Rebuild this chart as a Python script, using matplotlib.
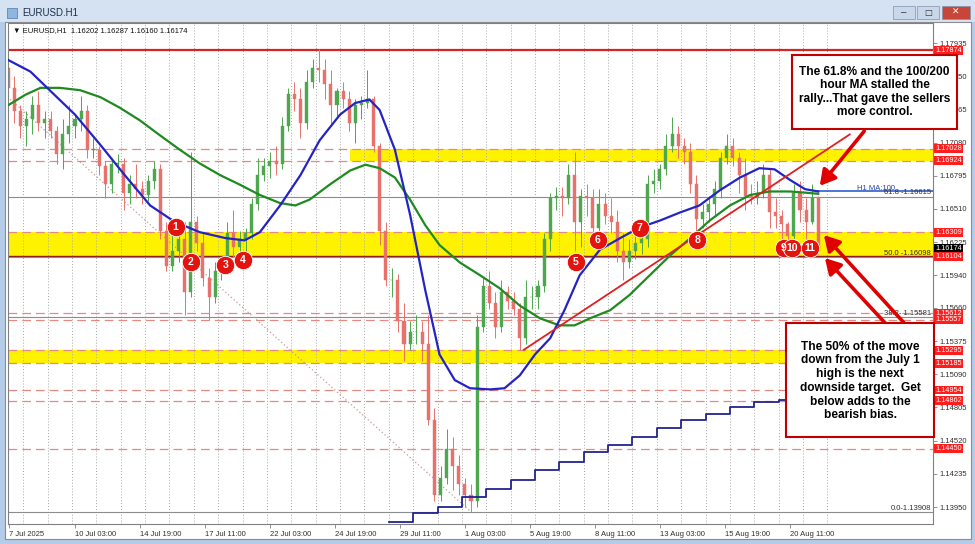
import matplotlib
matplotlib.use("Agg")
import matplotlib.pyplot as plt
from matplotlib.patches import Rectangle, FancyArrowPatch

plt.rcParams['font.family'] = ['Liberation Sans', 'DejaVu Sans']

# ---------------- data ----------------
trading_days = ['2025-07-07', '2025-07-08', '2025-07-09', '2025-07-10', '2025-07-11',
                '2025-07-14', '2025-07-15', '2025-07-16', '2025-07-17', '2025-07-18',
                '2025-07-21', '2025-07-22', '2025-07-23', '2025-07-24', '2025-07-25',
                '2025-07-28', '2025-07-29', '2025-07-30', '2025-07-31', '2025-08-01',
                '2025-08-04', '2025-08-05', '2025-08-06', '2025-08-07', '2025-08-08',
                '2025-08-11', '2025-08-12', '2025-08-13', '2025-08-14', '2025-08-15',
                '2025-08-18', '2025-08-19', '2025-08-20', '2025-08-21']

# 6-hour candles (4 per day), open = previous close
first_open = 1.1778
candle_high = [
    1.1785, 1.1778, 1.1765, 1.1740,  1.1735, 1.1748, 1.1752, 1.1735,
    1.1735, 1.1722, 1.1728, 1.1740,  1.1732, 1.1748, 1.1740, 1.1712,
    1.1705, 1.1692, 1.1695, 1.1698,  1.1695, 1.1680, 1.1690, 1.1675,
    1.1680, 1.1692, 1.1690, 1.1640,  1.1630, 1.1640, 1.1640, 1.1700,
    1.1645, 1.1630, 1.1600, 1.1605,  1.1610, 1.1640, 1.1650, 1.1632,
    1.1635, 1.1660, 1.1695, 1.1695,  1.1700, 1.1705, 1.1730, 1.1755,
    1.1760, 1.1755, 1.1770, 1.1780,  1.1788, 1.1780, 1.1770, 1.1755,
    1.1760, 1.1752, 1.1745, 1.1748,  1.1770, 1.1748, 1.1708, 1.1640,
    1.1600, 1.1595, 1.1570, 1.1555,  1.1560, 1.1555, 1.1560, 1.1480,
    1.1430, 1.1462, 1.1455, 1.1440,  1.1420, 1.1415, 1.1560, 1.1592,
    1.1598, 1.1580, 1.1590, 1.1585,  1.1580, 1.1570, 1.1590, 1.1585,
    1.1590, 1.1630, 1.1665, 1.1670,  1.1670, 1.1690, 1.1700, 1.1668,
    1.1672, 1.1668, 1.1668, 1.1665,  1.1660, 1.1650, 1.1630, 1.1625,
    1.1630, 1.1640, 1.1680, 1.1685,  1.1690, 1.1715, 1.1730, 1.1722,
    1.1712, 1.1708, 1.1680, 1.1655,  1.1662, 1.1675, 1.1700, 1.1715,
    1.1712, 1.1700, 1.1695, 1.1672,  1.1675, 1.1690, 1.1685, 1.1660,
    1.1650, 1.1640, 1.1672, 1.1675,  1.1660, 1.1672, 1.1662]
candle_low = [
    1.1765, 1.1748, 1.1725, 1.1712,  1.1705, 1.1715, 1.1718, 1.1712,
    1.1712, 1.1690, 1.1685, 1.1708,  1.1712, 1.1718, 1.1695, 1.1695,
    1.1680, 1.1660, 1.1665, 1.1682,  1.1650, 1.1655, 1.1660, 1.1655,
    1.1658, 1.1668, 1.1625, 1.1598,  1.1598, 1.1605, 1.1560, 1.1575,
    1.1615, 1.1585, 1.1556, 1.1570,  1.1590, 1.1600, 1.1610, 1.1612,
    1.1610, 1.1625, 1.1650, 1.1675,  1.1678, 1.1680, 1.1685, 1.1718,
    1.1735, 1.1712, 1.1720, 1.1755,  1.1760, 1.1745, 1.1722, 1.1730,
    1.1738, 1.1718, 1.1708, 1.1728,  1.1738, 1.1700, 1.1620, 1.1585,
    1.1575, 1.1545, 1.1520, 1.1530,  1.1535, 1.1520, 1.1465, 1.1400,
    1.1400, 1.1415, 1.1410, 1.1405,  1.1395, 1.1391, 1.1395, 1.1545,
    1.1565, 1.1540, 1.1545, 1.1565,  1.1560, 1.1530, 1.1535, 1.1565,
    1.1565, 1.1580, 1.1615, 1.1650,  1.1645, 1.1655, 1.1615, 1.1618,
    1.1645, 1.1625, 1.1630, 1.1638,  1.1630, 1.1605, 1.1590, 1.1600,
    1.1608, 1.1612, 1.1618, 1.1665,  1.1668, 1.1680, 1.1700, 1.1695,
    1.1690, 1.1665, 1.1630, 1.1635,  1.1640, 1.1645, 1.1660, 1.1690,
    1.1688, 1.1665, 1.1650, 1.1655,  1.1655, 1.1660, 1.1635, 1.1635,
    1.1625, 1.1618, 1.1622, 1.1640,  1.1625, 1.1638, 1.1612]
candle_close = [
    1.1772, 1.1755, 1.1735, 1.1722,  1.1728, 1.1740, 1.1725, 1.1728,
    1.1718, 1.1698, 1.1715, 1.1722,  1.1728, 1.1735, 1.1702, 1.1702,
    1.1688, 1.1672, 1.1690, 1.1690,  1.1665, 1.1672, 1.1668, 1.1663,
    1.1675, 1.1685, 1.1632, 1.1602,  1.1615, 1.1625, 1.1580, 1.1640,
    1.1622, 1.1592, 1.1575, 1.1598,  1.1605, 1.1630, 1.1618, 1.1625,
    1.1630, 1.1655, 1.1680, 1.1688,  1.1692, 1.1690, 1.1722, 1.1750,
    1.1745, 1.1725, 1.1760, 1.1772,  1.1770, 1.1758, 1.1740, 1.1752,
    1.1745, 1.1725, 1.1740, 1.1742,  1.1745, 1.1705, 1.1632, 1.1590,
    1.1590, 1.1555, 1.1535, 1.1545,  1.1545, 1.1535, 1.1470, 1.1405,
    1.1420, 1.1445, 1.1430, 1.1415,  1.1405, 1.1400, 1.1550, 1.1585,
    1.1570, 1.1550, 1.1580, 1.1572,  1.1565, 1.1540, 1.1575, 1.1575,
    1.1585, 1.1625, 1.1660, 1.1662,  1.1660, 1.1680, 1.1640, 1.1662,
    1.1660, 1.1635, 1.1655, 1.1645,  1.1640, 1.1615, 1.1605, 1.1615,
    1.1622, 1.1625, 1.1672, 1.1675,  1.1685, 1.1705, 1.1715, 1.1705,
    1.1700, 1.1672, 1.1642, 1.1648,  1.1655, 1.1668, 1.1695, 1.1705,
    1.1695, 1.1680, 1.1662, 1.1660,  1.1665, 1.1680, 1.1648, 1.1645,
    1.1638, 1.1628, 1.1665, 1.1650,  1.1640, 1.1660, 1.16174]

# hourly moving averages (bar index, price)
ma100_bar = [-1, 21, 40, 65, 90, 114, 139, 163, 188, 213, 232, 247, 267, 287, 306, 326,
             341, 355, 365, 380, 395, 410, 424, 439, 454, 474, 488, 503, 518, 533, 547,
             562, 582, 602, 621, 641, 661, 680, 700, 720, 739, 754, 769, 784, 797]
ma100 = [1.1779, 1.1769, 1.1753, 1.1732, 1.1706, 1.1680, 1.1654, 1.1640, 1.1631, 1.1626,
         1.1624, 1.1631, 1.1654, 1.1680, 1.1710, 1.1732, 1.1742, 1.1745, 1.1736, 1.1702,
         1.1646, 1.1581, 1.1526, 1.1504, 1.1497, 1.1496, 1.1497, 1.1508, 1.1526, 1.1540,
         1.1564, 1.1594, 1.1616, 1.1626, 1.1635, 1.1641, 1.1648, 1.1654, 1.1667, 1.1678,
         1.1686, 1.1685, 1.1676, 1.1668, 1.1666]
ma200_bar = [-1, 16, 31, 50, 70, 90, 109, 129, 149, 168, 188, 208, 227, 247, 267, 282,
             296, 316, 336, 351, 365, 380, 395, 410, 424, 444, 464, 483, 503, 523, 542,
             557, 572, 592, 611, 631, 651, 671, 690, 710, 730, 749, 769, 784, 797]
ma200 = [1.1740, 1.1749, 1.1755, 1.1755, 1.1753, 1.1747, 1.1738, 1.1727, 1.1714, 1.1702,
         1.1690, 1.1680, 1.1672, 1.1663, 1.1656, 1.1654, 1.1659, 1.1672, 1.1684, 1.1689,
         1.1686, 1.1678, 1.1659, 1.1637, 1.1620, 1.1605, 1.1594, 1.1583, 1.1568, 1.1557,
         1.1551, 1.1551, 1.1557, 1.1564, 1.1577, 1.1594, 1.1611, 1.1626, 1.1641, 1.1654,
         1.1663, 1.1666, 1.1666, 1.1665, 1.1664]

# daily MA shown as a step line (from 29 Jul)
daily_ma_days = trading_days[16:]
daily_ma = [1.13821, 1.13898, 1.13950, 1.14036, 1.14105, 1.14182, 1.14268, 1.14336,
            1.14422, 1.14482, 1.14551, 1.14628, 1.14697, 1.14749, 1.14809, 1.14852,
            1.14869, 1.14877]

# horizontal levels
red_levels = [1.17874, 1.17028, 1.16924, 1.16309, 1.16104, 1.15612, 1.15557,
              1.15295, 1.15185, 1.14954, 1.14862, 1.14450]
yellow_zones = [(1.16924, 1.17028), (1.16104, 1.16309), (1.15185, 1.15295)]
fib_levels = [1.16615, 1.16098, 1.15581, 1.13908]
fib_labels = ['61.8 -1.16615', '50.0 -1.16098', '38.2- 1.15581', '0.0-1.13908']
fib_anchor_bars = [-106, 455]
fib_anchor_prices = [1.18288, 1.13908]
trend_bars = [507, 828]
trend_prices = [1.1530, 1.1715]
last_price = 1.16174

circle_bars = [164, 179, 213, 230, 558, 580, 621, 678, 763, 771, 789]
circle_prices = [1.16355, 1.16054, 1.16028, 1.16071, 1.16054, 1.16243, 1.16346,
                 1.16243, 1.16174, 1.16174, 1.16174]
circle_labels = ['1', '2', '3', '4', '5', '6', '7', '8', '9', '10', '11']

price_ticks = [1.17935, 1.17650, 1.17365, 1.17080, 1.16795, 1.16510, 1.16225, 1.15940,
               1.15660, 1.15375, 1.15090, 1.14805, 1.14520, 1.14235, 1.13950]
time_ticks = [('2025-07-07', 10), ('2025-07-10', 3), ('2025-07-14', 19), ('2025-07-17', 11),
              ('2025-07-22', 3), ('2025-07-24', 19), ('2025-07-29', 11), ('2025-08-01', 3),
              ('2025-08-05', 19), ('2025-08-08', 11), ('2025-08-13', 3), ('2025-08-15', 19),
              ('2025-08-20', 11)]
time_labels = ['7 Jul 2025', '10 Jul 03:00', '14 Jul 19:00', '17 Jul 11:00', '22 Jul 03:00',
               '24 Jul 19:00', '29 Jul 11:00', '1 Aug 03:00', '5 Aug 19:00', '8 Aug 11:00',
               '13 Aug 03:00', '15 Aug 19:00', '20 Aug 11:00']

top_note = "The 61.8% and the 100/200\nhour MA stalled the\nrally...That gave the sellers\nmore control."
bottom_note = ("The 50% of the move\ndown from the July 1\nhigh is the next\n"
               "downside target.  Get\nbelow adds to the\nbearish bias.")


def bar_of(day, hour):
    # hourly bar index, bar 0 = first visible bar (7 Jul 10:00)
    return 24 * trading_days.index(day) + hour - 10


# pixel helpers for the window layout
W, H = 975, 544
def fx(x):
    return x / W
def fy(y):
    return 1 - y / H


fig = plt.figure(figsize=(9.75, 5.44), dpi=100, facecolor='#b4cce8')

# window chrome
fig.add_artist(Rectangle((0, fy(22)), 1, 22 / H, transform=fig.transFigure,
                         fc='#d4e2f2', ec='none', zorder=0))
fig.add_artist(Rectangle((fx(5), fy(539)), (971 - 5) / W, (539 - 22) / H,
                         transform=fig.transFigure, fc='white', ec='#8c8c8c', lw=0.8, zorder=0))
fig.add_artist(Rectangle((fx(7), fy(18)), 10 / W, 10 / H, transform=fig.transFigure,
                         fc='#8fb6e0', ec='#5f86b5', lw=0.6))
fig.text(fx(22), fy(13), 'EURUSD.H1', fontsize=7, color='#1e2f4a', va='center')
for x0, x1, col in [(893, 915, '#c8d7ea'), (917, 939, '#c8d7ea'), (942, 970, '#c8453a')]:
    fig.add_artist(Rectangle((fx(x0), fy(19)), (x1 - x0) / W, 13 / H,
                             transform=fig.transFigure, fc=col, ec='#7f93ad', lw=0.5))
fig.text(fx(904), fy(12), '\u2013', fontsize=7, ha='center', va='center', color='#333')
fig.text(fx(928), fy(12.5), '\u25a1', fontsize=6, ha='center', va='center', color='#333',
         family=['DejaVu Sans'])
fig.text(fx(956), fy(12.5), '\u2715', fontsize=6.5, ha='center', va='center', color='white',
         family=['DejaVu Sans'], weight='bold')

ax = fig.add_axes([fx(8), fy(524), (933 - 8) / W, (524 - 23) / H])
ax.set_xlim(-1, 910)
ax.set_ylim(1.13804, 1.18107)
for s in ax.spines.values():
    s.set_color('#808080')
    s.set_linewidth(0.8)

# grid: one dotted line per trading day
for k in range(1, len(trading_days) + 1):
    ax.axvline(24 * k - 10, color='#a8a8a8', lw=0.7, ls=(0, (1, 2)), zorder=0.6)

# yellow zones
zone_start = [336, -1, -1]
for (lo, hi), x0 in zip(yellow_zones, zone_start):
    ax.fill_between([x0, 910], lo, hi, color='#fff200', lw=0, zorder=0.5)

# red levels
for lvl in red_levels:
    if lvl == 1.17874:
        ax.axhline(lvl, color='#d62424', lw=1.6, zorder=1)
    elif lvl == 1.16104:
        ax.axhline(lvl, color='#8b1c1c', lw=1.0, zorder=1)
    else:
        ax.axhline(lvl, color='#e58a80', lw=0.9, ls=(0, (7, 4)), zorder=1)

# fib retracement lines
for lvl, lab in zip(fib_levels, fib_labels):
    ax.axhline(lvl, color='#8c8c8c', lw=0.8, zorder=1.1)
    ax.text(908, lvl + 0.00003, lab, fontsize=5.5, color='#303030', ha='right',
            va='bottom', zorder=4)
ax.plot(fib_anchor_bars, fib_anchor_prices, color='#c49a9a', lw=0.9,
        ls=(0, (1, 2)), zorder=1.2)

# candles
n = len(candle_close)
opens = [first_open] + candle_close[:-1]
centers = []
for k, day in enumerate(trading_days):
    for b in range(4):
        if len(centers) < n:
            centers.append(bar_of(day, 6 * b + 3))
for xc, o, hi, lo, c in zip(centers, opens, candle_high, candle_low, candle_close):
    col = '#4ea64e' if c >= o else '#e8716b'
    ax.vlines(xc, lo, hi, color=col, lw=0.7, zorder=2)
    ax.add_patch(Rectangle((xc - 1.5, min(o, c)), 3.0, max(abs(c - o), 0.00002),
                           fc=col, ec=col, lw=0.3, zorder=2.1))

# moving averages
ax.plot(ma200_bar, ma200, color='#1f8a1f', lw=1.6, zorder=3)
ax.plot(ma100_bar, ma100, color='#2424c4', lw=1.6, zorder=3.1)
ax.plot([ma100_bar[-1], 910], [ma100[-1], ma100[-1]], color='#2f5fd0', lw=1.2, zorder=3)
ax.text(835, ma100[-1] + 0.00012, 'H1 MA:100', fontsize=5.5, color='#2a3fa0', zorder=4)

day_x = [bar_of(d, 0) for d in daily_ma_days] + [797]
ax.plot(day_x, daily_ma + [daily_ma[-1]], drawstyle='steps-post', color='#23238f',
        lw=1.3, zorder=3)

# trend line
ax.plot(trend_bars, trend_prices, color='#e02020', lw=1.3, zorder=3.5)

# numbered touches
ax.scatter(circle_bars, circle_prices, s=175, color='#e3140f', edgecolors='white',
           linewidths=0.6, zorder=5)
for xb, yp, lab in zip(circle_bars, circle_prices, circle_labels):
    ax.text(xb, yp, lab, fontsize=7.5, color='white', weight='bold', ha='center',
            va='center', zorder=6)

# header line
ax.text(4, 1.18107 - 0.00065, '\u25bc EURUSD,H1  1.16202 1.16287 1.16160 1.16174',
        fontsize=5.5, color='#111', va='center', family=['Liberation Sans', 'DejaVu Sans'])

# price axis on the right
ax.yaxis.tick_right()
ax.set_yticks(price_ticks)
ax.set_yticklabels(['%.5f' % p for p in price_ticks])
ax.tick_params(axis='y', length=3, width=0.6, pad=2, labelsize=5.5,
               colors='#808080', labelcolor='#303030')
ax.set_xticks([bar_of(d, h) for d, h in time_ticks])
ax.set_xticklabels(time_labels)
ax.tick_params(axis='x', length=3, width=0.6, pad=2, labelsize=5.5,
               colors='#808080', labelcolor='#303030')
for t in ax.get_xticklabels():
    t.set_horizontalalignment('left')

for lvl in red_levels:
    ax.text(1.0025, lvl, '%.5f' % lvl, transform=ax.get_yaxis_transform(), fontsize=5.3,
            color='white', va='center', ha='left', clip_on=False, zorder=7,
            bbox=dict(boxstyle='square,pad=0.12', fc='#ff1e1e', ec='none'))
ax.text(1.0025, last_price, '%.5f' % last_price, transform=ax.get_yaxis_transform(),
        fontsize=5.3, color='white', va='center', ha='left', clip_on=False, zorder=8,
        bbox=dict(boxstyle='square,pad=0.12', fc='black', ec='none'))

# arrows
arrow_kw = dict(transform=fig.transFigure, arrowstyle='-|>,head_length=0.7,head_width=0.4',
                mutation_scale=13, color='#e00000', lw=2.6, zorder=8)
fig.add_artist(FancyArrowPatch((fx(866), fy(129)), (fx(818), fy(188)), **arrow_kw))
fig.add_artist(FancyArrowPatch((fx(906), fy(325)), (fx(822), fy(233)), **arrow_kw))
fig.add_artist(FancyArrowPatch((fx(887), fy(325)), (fx(823), fy(256)), **arrow_kw))

# note boxes
fig.add_artist(Rectangle((fx(792), fy(129)), (957 - 792) / W, (129 - 55) / H,
                         transform=fig.transFigure, fc='white', ec='#c00000', lw=1.5, zorder=9))
fig.text(fx(874.5), fy(92), top_note, ha='center', va='center', fontsize=8.6, weight='bold',
         linespacing=1.15, zorder=10)
fig.add_artist(Rectangle((fx(786), fy(437)), (934 - 786) / W, (437 - 323) / H,
                         transform=fig.transFigure, fc='white', ec='#c00000', lw=1.5, zorder=9))
fig.text(fx(860), fy(381), bottom_note, ha='center', va='center', fontsize=8.6, weight='bold',
         linespacing=1.2, zorder=10)

fig.savefig('out.png', dpi=100, facecolor=fig.get_facecolor())
